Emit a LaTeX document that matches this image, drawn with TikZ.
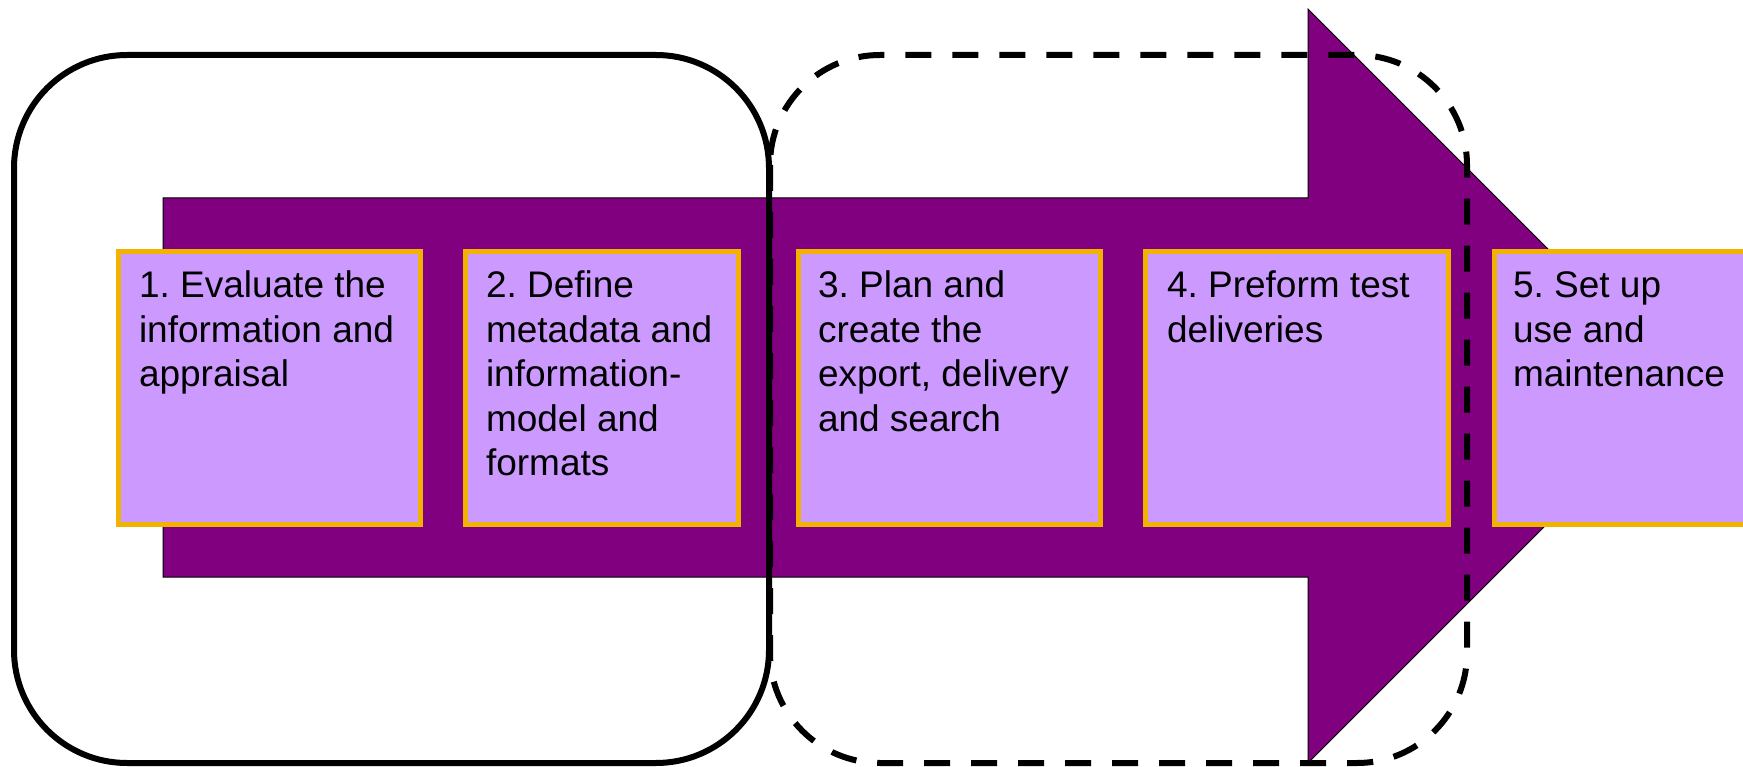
\documentclass[tikz,border=0pt]{standalone}
\usepackage{fontspec}
\setmainfont{Liberation Sans}
\usetikzlibrary{calc}
\definecolor{arrowpurple}{HTML}{800080}
\definecolor{boxfill}{HTML}{CC99FF}
\definecolor{boxedge}{HTML}{F2B300}
\frenchspacing
\begin{document}
\begin{tikzpicture}[x=1pt,y=-1pt,
  stepbox/.style={draw=boxedge, fill=boxfill, line width=5pt, inner sep=0pt, outer sep=0pt,
    anchor=north west, minimum height=273pt},
  steptext/.style={anchor=base west, inner sep=0pt, outer sep=0pt, font=\fontsize{37}{44.4}\selectfont},
  bigarrow/.style={fill=arrowpurple, draw=black, line width=1pt, line join=miter},
  phasebox/.style={draw=black, line width=6pt, rounded corners=113pt},
  phasedash/.style={draw=black, line width=6pt, rounded corners=110pt, dash pattern=on 26pt off 21pt}]
\useasboundingbox (0,0) rectangle (1743,767);
\clip (0,0) rectangle (1743,767);
% big arrow
\path[bigarrow] (163,198) -- (1308,198) -- (1308,9) -- (1685,386) -- (1308,763) -- (1308,577) -- (163,577) -- cycle;
% step boxes
\node[stepbox, minimum width=302pt] (b1) at (118.5,251.5) {};
\node[stepbox, minimum width=273pt] (b2) at (465.5,251.5) {};
\node[stepbox, minimum width=302pt] (b3) at (798.5,251.5) {};
\node[stepbox, minimum width=303pt] (b4) at (1145.5,251.5) {};
\node[stepbox, minimum width=302pt] (b5) at (1494.5,251.5) {};
% texts
\node[steptext] (t1) at ($(b1.north west)+(20.5,46.5)$) {\parbox[t]{290pt}{\raggedright\frenchspacing 1. Evaluate the\\information and\\appraisal}};
\node[steptext] (t2) at ($(b2.north west)+(20.5,46.5)$) {\parbox[t]{260pt}{\raggedright\frenchspacing 2. Define\\metadata and\\information-\\model and\\formats}};
\node[steptext] (t3) at ($(b3.north west)+(19.5,46.5)$) {\parbox[t]{290pt}{\raggedright\frenchspacing 3. Plan and\\create the\\export, delivery\\and search}};
\node[steptext] (t4) at ($(b4.north west)+(21.5,46.5)$) {\parbox[t]{290pt}{\raggedright\frenchspacing 4. Preform test\\deliveries}};
\node[steptext] (t5) at ($(b5.north west)+(18.5,46.5)$) {\parbox[t]{290pt}{\raggedright\frenchspacing 5. Set up\\use and\\maintenance}};
% phase frames
\draw[phasedash] (770,55) rectangle (1467,763);
\draw[phasebox] (14,55) rectangle (769,763);
\end{tikzpicture}
\end{document}
